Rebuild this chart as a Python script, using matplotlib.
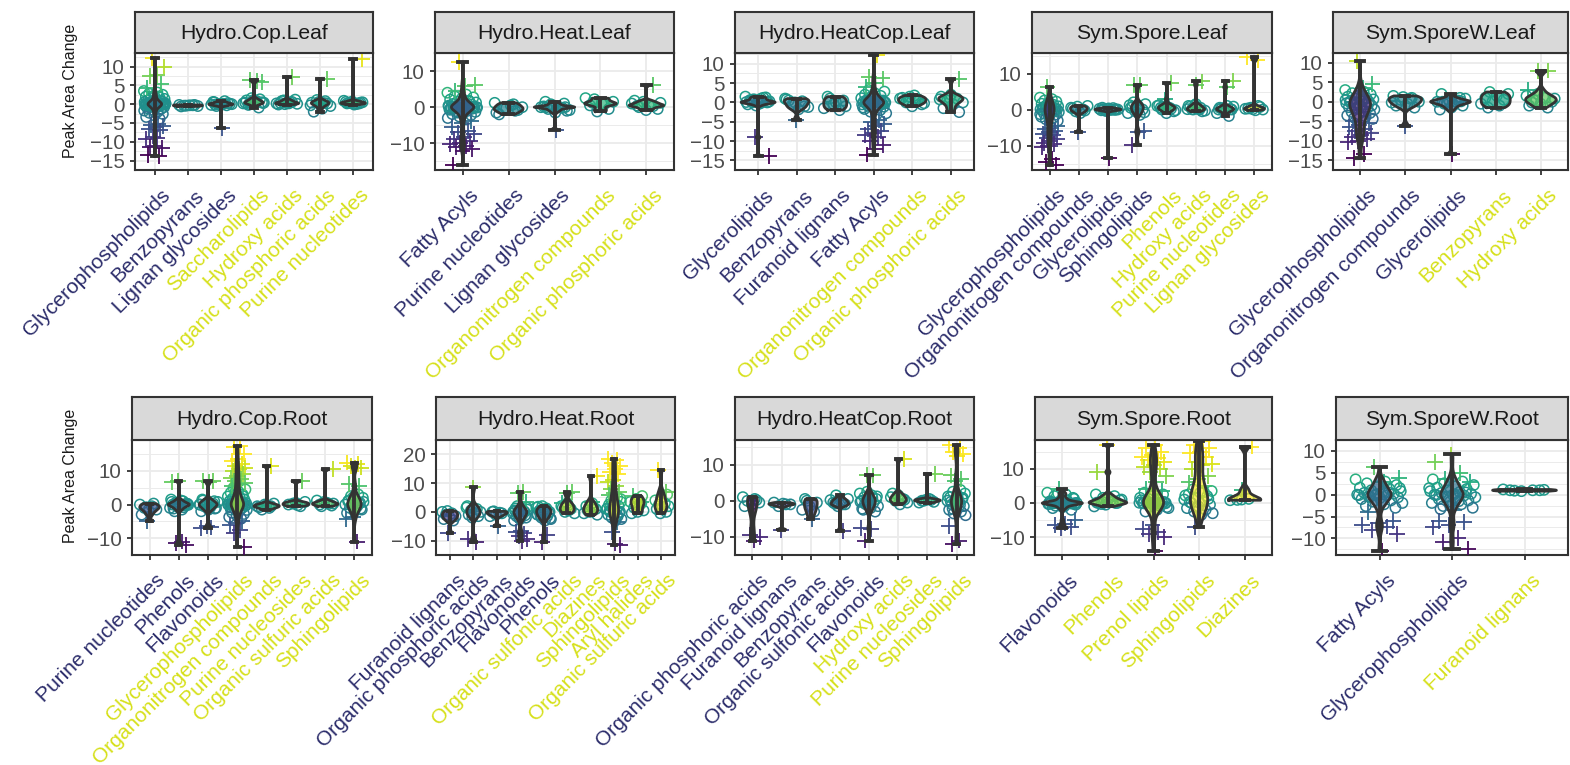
import matplotlib
matplotlib.use("Agg")
import matplotlib.pyplot as plt
import numpy as np
from matplotlib import colors
from matplotlib.transforms import ScaledTranslation

plt.rcParams.update({
    "font.family": ["Liberation Sans", "DejaVu Sans"],
    "axes.unicode_minus": True,
})

# ===============================
# data
# ===============================
# --- Hydro.Cop.Leaf ---
HCL_cats = ["Glycerophospholipids", "Benzopyrans", "Lignan glycosides", "Saccharolipids",
            "Hydroxy acids", "Organic phosphoric acids", "Purine nucleotides"]
HCL_sign = ["neg", "neg", "neg", "pos", "pos", "pos", "pos"]
HCL_pts = [
    [3.5, 3.1, 2.8, 2.5, 2.3, 2.0, 1.8, 1.6, 1.4, 1.2, 1.0, 0.9, 0.8, 0.6, 0.5, 0.4, 0.3, 0.2, 0.1, 0.0,
     0.0, 0.0, 0.0, -0.1, -0.2, -0.3, -0.4, -0.5, -0.6, -0.8, -0.9, -1.1, -1.3, -1.5, -1.7, -2.0, -2.3,
     -2.6, -3.0, -3.4, -3.9, 0.1, -0.1, 0.3, -0.3, 0.7, -0.7, 0.0, 0.05, -0.05, 0.0, 0.1, -0.1,
     0.15, -0.15, 0.2, -0.2, 0.05, -0.05, 0.0],
    [-0.2, -0.3, -0.4, -0.5, -0.3, -0.6, -0.2, -0.4],
    [0.5, 0.3, 0.0, -0.2, 0.8, -0.5, 0.1, -0.1, 0.6, -0.3, 0.0, 0.0, 0.1, -0.1],
    [0.0, 0.3, 0.6, 1.0, 1.3, 1.6, 0.2, 0.8, -0.2, 0.5, 1.1, 0.4, -0.9, 0.3, 0.4],
    [0.0, 0.2, 0.5, 0.8, 1.2, 0.3, -0.1, 0.6, 1.0, 0.1, 0.2, 0.3],
    [0.0, 0.4, 0.8, 1.1, -0.5, -1.2, -2.0, 0.2, 0.6, -0.3, 0.3],
    [0.0, 0.2, 0.4, 0.7, 0.9, 0.1, 0.3, 0.5, -0.1, 0.6, 0.2, 0.3],
]
HCL_out = [
    [12.3, 10.0, 7.8, 7.5, 5.3, 3.3, 4.2, -5.2, -5.5, -5.8, -6.2, -6.6, -7.0, -8.6, -9.3, -9.0,
     -11.4, -11.7, -11.2, -13.5, -13.8],
    [], [-6.3], [6.2, 6.5, 6.0], [7.3], [6.8], [12.0],
]

# --- Hydro.Heat.Leaf ---
HHL_cats = ["Fatty Acyls", "Purine nucleotides", "Lignan glycosides",
            "Organonitrogen compounds", "Organic phosphoric acids"]
HHL_sign = ["neg", "neg", "neg", "pos", "pos"]
HHL_pts = [
    [4.0, 3.5, 3.0, 2.7, 2.4, 2.1, 1.8, 1.5, 1.3, 1.1, 0.9, 0.7, 0.5, 0.4, 0.3, 0.2, 0.1, 0.0, 0.0,
     0.0, 0.0, -0.1, -0.2, -0.3, -0.4, -0.5, -0.7, -0.9, -1.1, -1.3, -1.6, -1.9, -2.2, -2.6, -3.0,
     -3.4, 0.1, -0.1, 0.6, -0.6, 1.6, -1.5, 0.0, 0.05, -0.05, 0.1, -0.1, 0.2, -0.2, 0.0],
    [-1.5, -1.0, -0.5, 0.0, 0.5, -2.0, -0.8, -0.2, 1.2, 0.8],
    [1.5, 1.0, 0.5, 0.0, 0.0, -0.5, -1.0, -1.5, 0.2, -0.2, 0.8, -0.8, 0.1, 0.0, 0.0, -0.1],
    [2.2, 1.5, 1.0, 0.5, -0.5, -1.2, 2.5, 0.8, 1.2],
    [1.5, 1.0, 0.5, 0.0, -0.5, -0.8, 1.8, 0.3, 0.7, 1.2, 0.5, 0.4],
]
HHL_out = [
    [12.5, 6.2, 6.0, 4.5, -3.8, -4.5, -5.5, -6.5, -7.0, -7.5, -8.2, -8.8, -9.5, -10.0, -10.2,
     -10.8, -11.0, -11.5, -12.0, -16.0],
    [], [-6.2], [], [6.2],
]

# --- Hydro.HeatCop.Leaf ---
HHCL_cats = ["Glycerolipids", "Benzopyrans", "Furanoid lignans", "Fatty Acyls",
             "Organonitrogen compounds", "Organic phosphoric acids"]
HHCL_sign = ["neg", "neg", "neg", "neg", "pos", "pos"]
HHCL_pts = [
    [1.5, 1.0, 0.5, 0.0, 0.0, -0.5, 1.2, 0.8, 0.3, -0.3, 0.6, 1.3, -0.8, 0.1, 0.0, 0.0, 0.1, -0.1],
    [0.8, 0.3, -0.5, -1.2, -1.8, 0.5, -1.0, 0.0, 1.0],
    [1.5, 0.5, -0.5, -1.5, -2.0, 1.0, -1.0, 0.0],
    [3.2, 2.8, 2.4, 2.0, 1.7, 1.4, 1.1, 0.9, 0.7, 0.5, 0.3, 0.2, 0.1, 0.0, 0.0, 0.0, -0.1, -0.2,
     -0.3, -0.5, -0.7, -0.9, -1.1, -1.4, -1.7, -2.0, -2.4, -2.8, -3.2, 0.4, -0.4, 1.3, -1.3,
     0.0, 0.05, -0.05, 0.1, -0.1, 0.2, -0.2],
    [1.5, 1.0, 0.5, 0.0, -0.5, -1.0, 1.2, 0.8, 0.3, -0.2, 1.8],
    [2.0, 1.5, 1.0, 0.5, 0.0, -0.5, -1.5, -2.5, 1.2, 0.8],
]
HHCL_out = [
    [-9.0, -13.8], [-4.5], [],
    [12.3, 6.5, 6.2, 5.0, 4.0, -4.5, -5.0, -5.5, -6.0, -7.0, -7.5, -8.0, -8.5, -9.0, -10.0, -11.0,
     -12.0, -13.5],
    [], [6.0],
]

# --- Sym.Spore.Leaf ---
SSL_cats = ["Glycerophospholipids", "Organonitrogen compounds", "Glycerolipids", "Sphingolipids",
            "Phenols", "Hydroxy acids", "Purine nucleotides", "Lignan glycosides"]
SSL_sign = ["neg", "neg", "neg", "neg", "pos", "pos", "pos", "pos"]
SSL_pts = [
    [3.3, 2.9, 2.5, 2.2, 1.9, 1.6, 1.3, 1.1, 0.9, 0.7, 0.5, 0.3, 0.2, 0.1, 0.0, 0.0, 0.0, -0.1, -0.2,
     -0.3, -0.5, -0.7, -0.9, -1.1, -1.4, -1.7, -2.0, -2.3, -2.7, -3.1, -3.5, 0.4, -0.4, 1.4, -1.3, 0.6],
    [0.5, 0.0, -0.5, 1.0, -1.0, 0.3, -0.3, 0.8],
    [0.5, 0.0, -0.3, 0.2, -0.1, 0.1, 0.0, 0.3, -0.2, 0.4, -0.4, 0.0, 0.0, 0.05, -0.05],
    [2.0, 1.5, 1.0, 0.5, 0.0, -0.5, -1.0, -1.5, 0.8, -0.8, 0.3, 1.2],
    [1.5, 1.0, 0.5, 0.0, -0.5, -1.0, 1.2, 0.2, 0.8, -0.2, 0.4, 0.5],
    [1.5, 1.0, 0.5, 0.0, -0.3, 0.3, 0.8, -0.5, 1.2, 0.1, 0.0, 0.1],
    [1.0, 0.5, 0.0, -0.5, -1.0, -1.8, 0.3, 0.8, -0.2, 0.0, 0.1],
    [1.0, 0.5, 0.0, -0.2, 0.3, 0.7, 0.1, 0.2],
]
SSL_out = [
    [6.3, -4.5, -5.0, -5.5, -6.0, -6.3, -6.8, -7.2, -7.8, -8.3, -8.8, -9.2, -9.6, -10.0, -10.3,
     -13.8, -14.5, -15.5],
    [-6.2], [-13.5], [6.9, 6.7, -6.0, -6.3, -9.8], [7.3, 2.8], [7.8, 6.8], [8.0, 6.2], [14.5, 13.8],
]

# --- Sym.SporeW.Leaf ---
SSWL_cats = ["Glycerophospholipids", "Organonitrogen compounds", "Glycerolipids",
             "Benzopyrans", "Hydroxy acids"]
SSWL_sign = ["neg", "neg", "neg", "pos", "pos"]
SSWL_pts = [
    [3.0, 2.6, 2.2, 1.9, 1.6, 1.3, 1.0, 0.8, 0.6, 0.4, 0.2, 0.0, -0.2, -0.4, -0.6, -0.8, -1.0, -1.2,
     -1.4, -1.6, -1.8, -2.0, -2.3, -2.6, -2.9, -3.2, -3.5, -3.8, -4.1, -4.4, 0.1, -0.1, -0.5, -1.5,
     0.5, -2.5],
    [1.5, 1.0, 0.5, 0.0, -0.5, -1.0, -1.5, 1.2, -0.2, 0.8],
    [2.0, 1.0, 0.5, 0.0, 0.0, -0.5, -1.0, -1.5, -2.0, 0.3, -0.3, 0.8, -0.8, 0.0, 0.1, -0.1],
    [2.5, 2.0, 1.5, 1.0, 0.5, 0.0, -0.5, -1.0, -1.5],
    [2.0, 1.5, 1.0, 0.5, 0.0, -0.5, -1.0, -1.5, 0.3, 0.8, 1.2, -0.2],
]
SSWL_out = [
    [10.5, 4.5, 3.5, -5.0, -5.5, -6.0, -6.5, -7.0, -7.5, -8.0, -8.5, -9.0, -9.5, -10.0, -10.3,
     -13.5, -14.5],
    [-6.2], [-13.5], [], [8.0, 7.8, 3.0],
]

# --- Hydro.Cop.Root ---
HCR_cats = ["Purine nucleotides", "Phenols", "Flavonoids", "Glycerophospholipids",
            "Organonitrogen compounds", "Purine nucleosides", "Organic sulfuric acids", "Sphingolipids"]
HCR_sign = ["neg", "neg", "neg", "pos", "pos", "pos", "pos", "pos"]
HCR_pts = [
    [0.0, -0.5, -1.0, -1.5, -2.0, -3.0, 0.3, -0.8],
    [1.5, 1.0, 0.5, 0.2, 0.0, 0.0, -0.3, -0.6, -1.0, -1.5, -2.0, 0.3, -0.2, 0.8, -0.8, 0.1, -0.1,
     1.2, -1.2, 0.0, 0.0],
    [1.5, 1.0, 0.5, 0.0, 0.0, -0.5, -1.0, -1.5, -2.0, 0.3, -0.3, 0.8, -0.8, 1.2, -1.2, 0.1, 0.0],
    [5.0, 4.5, 4.0, 3.5, 3.0, 2.7, 2.4, 2.1, 1.8, 1.5, 1.2, 1.0, 0.8, 0.6, 0.4, 0.2, 0.1, 0.0, 0.0,
     0.0, -0.1, -0.2, -0.4, -0.6, -0.8, -1.0, -1.3, -1.6, -2.0, -2.4, -2.8, -3.2, -3.7, -4.2, 0.3,
     -0.3, 1.5, -1.5, 2.5, 3.8, 0.0, 0.05, -0.05, 0.1, -0.1, 0.15, -0.15, 0.0],
    [0.0, -0.5, -1.0, -1.5, 0.3, -0.2, -0.8, -0.5],
    [0.5, 0.0, -0.5, 0.3, 0.8, -0.2],
    [0.5, 0.0, -0.3, 0.8, 1.2, 0.2, -0.5, 0.3],
    [3.0, 2.5, 2.0, 1.5, 1.0, 0.5, 0.0, 0.0, -0.5, -1.0, -1.5, -2.0, -2.5, 0.3, -0.3, 0.8, -0.8,
     1.2, -1.2, 2.2],
]
HCR_out = [
    [-5.0],
    [7.0, 6.8, -11.0, -11.5, -12.0],
    [6.8, 6.9, 7.0, -6.5, -7.0, -6.8],
    [17.5, 17.0, 15.0, 13.5, 13.0, 12.0, 11.5, 11.0, 10.5, 10.0, 9.0, 8.5, 8.0, 7.5, 7.0, 6.5, 6.0,
     5.5, -5.0, -5.5, -6.0, -7.5, -8.5, -12.5],
    [11.5], [7.0], [10.5],
    [12.5, 12.0, 11.5, 11.0, 10.8, 6.0, 5.5, -3.8, -4.2, -11.0],
]

# --- Hydro.Heat.Root ---
HHR_cats = ["Furanoid lignans", "Organic phosphoric acids", "Benzopyrans", "Flavonoids", "Phenols",
            "Organic sulfonic acids", "Diazines", "Sphingolipids", "Aryl halides", "Organic sulfuric acids"]
HHR_sign = ["neg", "neg", "neg", "neg", "neg", "pos", "pos", "pos", "pos", "pos"]
HHR_pts = [
    [0.0, -0.5, -1.0, -1.5, -2.0, -2.5, -3.0, 0.3],
    [2.0, 1.0, 0.5, 0.0, -0.5, -1.0, -1.5, -2.0, 1.5],
    [0.0, -0.5, -1.0, -1.5, -0.3, 0.2],
    [2.0, 1.5, 1.0, 0.5, 0.0, 0.0, -0.5, -1.0, -1.5, -2.0, -2.5, -3.0, 0.3, -0.3, 0.8, -0.8, 1.2,
     -1.2, -2.2, 0.1],
    [2.0, 1.5, 1.0, 0.5, 0.0, -0.5, -1.0, -1.5, -2.0, -2.5, -3.0, 0.3, -0.3, 0.8, -0.8, 1.2, -1.2,
     -2.2, 0.1, 1.8],
    [3.0, 2.0, 1.0, 0.0, -0.5, 0.5, 1.5],
    [3.0, 2.0, 1.0, 0.0, -0.5, 1.5, 0.5, -1.0],
    [5.0, 4.0, 3.5, 3.0, 2.5, 2.0, 1.5, 1.0, 0.5, 0.0, 0.0, -0.5, -1.0, -1.5, -2.0, -2.5, -3.0, 0.3,
     -0.3, 0.8, 1.2, -1.2, 2.2, 4.5],
    [5.5, 4.5, 3.5, 2.5, 1.5, 0.5, 0.0, -0.5, 3.0],
    [6.0, 5.0, 4.0, 3.0, 2.5, 2.0, 1.5, 1.0, 0.0, -0.5],
]
HHR_out = [
    [-7.5], [8.5, -9.5, -10.5], [-5.0],
    [7.0, 6.5, 3.5, -6.5, -7.0, -7.5, -8.5, -9.5, -10.0],
    [-8.0, -10.5], [6.8, 6.5, 3.0], [12.5, 3.5],
    [18.5, 18.0, 17.0, 16.0, 15.0, 14.0, 13.0, 11.0, 10.5, 9.0, 8.0, 7.0, 6.5, 6.0, -3.5, -7.0,
     -11.5, -11.0],
    [5.5, 3.5], [14.5, 7.0],
]

# --- Hydro.HeatCop.Root ---
HHCR_cats = ["Organic phosphoric acids", "Furanoid lignans", "Benzopyrans", "Organic sulfonic acids",
             "Flavonoids", "Hydroxy acids", "Purine nucleosides", "Sphingolipids"]
HHCR_sign = ["neg", "neg", "neg", "neg", "neg", "pos", "pos", "pos"]
HHCR_pts = [
    [1.0, 0.5, 0.0, -0.5, -1.0, -1.5, 0.2],
    [-0.5, -1.0, -1.5, -1.0, -0.8],
    [0.5, -0.5, -1.5, -2.5, -3.0, 0.0],
    [1.5, 0.5, 0.0, -0.5, -1.0, -1.5, 0.2, -1.0, -0.8],
    [2.5, 2.0, 1.5, 1.0, 0.5, 0.0, 0.0, -0.5, -1.0, -1.5, -2.0, -2.5, -3.0, 0.3, -0.3, 0.8, -0.8,
     1.2, -1.2, -2.2],
    [1.5, 1.0, 0.5, 0.0, -0.5, -1.0, 2.0, 0.3],
    [0.5, 0.0, -0.3, 0.3, -0.5, 0.2, 0.0],
    [3.0, 2.5, 2.0, 1.5, 1.0, 0.5, 0.0, 0.0, -0.5, -1.0, -1.5, -2.0, -2.5, -3.0, -3.5, -4.0, 0.3,
     -0.3, 0.8, -0.8, 1.2, -1.2, -2.2],
]
HHCR_out = [
    [-9.5, -10.0, -11.0], [-8.0], [-5.0], [-8.3],
    [7.0, 7.2, -7.5, -7.8, -11.0], [11.5], [7.5],
    [15.5, 14.5, 13.5, 13.0, 12.5, 7.0, 6.0, 5.5, -7.0, -11.0, -12.0],
]

# --- Sym.Spore.Root ---
SSR_cats = ["Flavonoids", "Phenols", "Prenol lipids", "Sphingolipids", "Diazines"]
SSR_sign = ["neg", "pos", "pos", "pos", "pos"]
SSR_pts = [
    [3.0, 2.5, 2.0, 1.5, 1.0, 0.5, 0.0, 0.0, -0.5, -1.0, -1.5, -2.0, 0.3, -0.3, 0.8, -0.8, 1.2,
     -1.2, 0.1, -0.1, 2.8, 0.0, 0.0, -0.1, -0.2, 0.1, -0.3, 0.0, 0.05, -0.05, -0.15],
    [2.5, 2.0, 1.5, 1.0, 0.5, 0.0, 0.0, -0.5, -1.0, 0.3, -0.3, 0.8, 1.2, 0.1, 0.0, 0.1],
    [3.0, 2.5, 2.0, 1.5, 1.0, 0.5, 0.0, 0.0, 0.0, -0.5, -1.0, -1.5, -2.0, -2.5, 0.3, -0.3, 0.8,
     -0.8, 1.2, -1.2, 0.1, -0.1, 0.0, 0.0, 0.05, -0.05, 0.1, -0.1, 0.0],
    [4.0, 3.5, 3.0, 2.5, 2.0, 1.5, 1.0, 0.5, 0.0, -0.5, -1.0, -1.5, -2.0, -2.5, -3.0, -3.5, 0.3,
     1.2, -1.2, 2.2, 3.2],
    [1.0, 0.8, 1.2, 0.9],
]
SSR_out = [
    [4.0, -5.0, -6.0, -6.5, -7.0, -7.3],
    [17.0, 9.0],
    [17.0, 16.0, 15.0, 14.0, 13.5, 13.0, 12.5, 12.0, 11.0, 10.5, 10.0, 9.0, 8.0, 6.0, 4.0, 3.5,
     -6.5, -7.5, -8.5, -9.0, -10.0, -14.0],
    [18.0, 17.0, 16.0, 15.0, 14.5, 13.5, 12.0, 11.5, 11.0, 10.0, 8.0, 7.0, 6.0, 5.0, -7.0],
    [16.5, 3.7],
]

# --- Sym.SporeW.Root ---
SSWR_cats = ["Fatty Acyls", "Glycerophospholipids", "Furanoid lignans"]
SSWR_sign = ["neg", "neg", "pos"]
SSWR_pts = [
    [3.5, 3.0, 2.6, 2.2, 1.9, 1.6, 1.3, 1.0, 0.8, 0.6, 0.4, 0.2, 0.0, 0.0, -0.2, -0.4, -0.6, -0.8,
     -1.0, -1.3, -1.6, -1.9, -2.2, -2.6, -3.0, 0.1, -0.1, 0.5, -0.5, 1.5, -1.5],
    [3.5, 3.0, 2.6, 2.2, 1.9, 1.6, 1.3, 1.0, 0.8, 0.6, 0.4, 0.2, 0.0, 0.0, -0.2, -0.4, -0.6, -0.8,
     -1.0, -1.3, -1.6, -1.9, -2.2, -2.6, -3.0, 0.1, -0.1, 0.5, -0.5, 1.5, -1.5, -3.3],
    [1.0, 1.0, 0.8, 1.2, 1.0, 0.9, 1.1],
]
SSWR_out = [
    [6.3, 3.8, 3.0, -4.0, -6.0, -6.5, -7.0, -7.3, -8.0, -9.0, -12.8],
    [9.2, 7.5, 5.0, 3.5, 3.0, -3.5, -6.0, -6.3, -7.0, -7.5, -10.0, -10.8, -12.5],
    [],
]

# ===============================
# layout (pixels)
# ===============================
W, H = 1570, 765
TOP = (12, 53, 170)      # strip top, panel top, panel bottom
BOT = (397, 440, 555)

panels = [
    ("Hydro.Cop.Leaf", HCL_cats, HCL_sign, HCL_pts, HCL_out, (135, 373), TOP, (-15.2, 13.6), [-15, -10, -5, 0, 5, 10]),
    ("Hydro.Heat.Leaf", HHL_cats, HHL_sign, HHL_pts, HHL_out, (435, 674), TOP, (-17.4, 13.7), [-10, 0, 10]),
    ("Hydro.HeatCop.Leaf", HHCL_cats, HHCL_sign, HHCL_pts, HHCL_out, (735, 974), TOP, (-15.3, 12.8), [-15, -10, -5, 0, 5, 10]),
    ("Sym.Spore.Leaf", SSL_cats, SSL_sign, SSL_pts, SSL_out, (1032, 1272), TOP, (-16.8, 15.7), [-10, 0, 10]),
    ("Sym.SporeW.Leaf", SSWL_cats, SSWL_sign, SSWL_pts, SSWL_out, (1333, 1568), TOP, (-15.6, 11.3), [-15, -10, -5, 0, 5, 10]),
    ("Hydro.Cop.Root", HCR_cats, HCR_sign, HCR_pts, HCR_out, (132, 372), BOT, (-14.0, 19.2), [-10, 0, 10]),
    ("Hydro.Heat.Root", HHR_cats, HHR_sign, HHR_pts, HHR_out, (436, 675), BOT, (-12.9, 20.0), [-10, 0, 10, 20]),
    ("Hydro.HeatCop.Root", HHCR_cats, HHCR_sign, HHCR_pts, HHCR_out, (735, 974), BOT, (-12.9, 16.8), [-10, 0, 10]),
    ("Sym.Spore.Root", SSR_cats, SSR_sign, SSR_pts, SSR_out, (1035, 1272), BOT, (-15.2, 18.4), [-10, 0, 10]),
    ("Sym.SporeW.Root", SSWR_cats, SSWR_sign, SSWR_pts, SSWR_out, (1336, 1568), BOT, (-13.8, 10.2), [-10, -5, 0, 5, 10]),
]

LABEL_COL = {"neg": "#2C2D6B", "pos": "#D6E01A"}
DARK = "#333333"
GRID = "#EBEBEB"
FS_X = 15.0
FS_Y = 14.8
FS_STRIP = 15.2

vir = plt.get_cmap("viridis")
pnorm = colors.Normalize(-13, 13, clip=True)
fnorm = colors.Normalize(-3, 3, clip=True)

fig = plt.figure(figsize=(W / 100, H / 100), dpi=100)
xshift = ScaledTranslation(6 / 100, 0, fig.dpi_scale_trans)


def px_axes(x0, x1, y0, y1):
    return fig.add_axes([x0 / W, 1 - y1 / H, (x1 - x0) / W, (y1 - y0) / H])


def jit(n, w, off=0.0):
    i = np.arange(n)
    return ((i * 0.618034 + off) % 1 - 0.5) * 2 * w


def kde(vals, grid):
    v = np.asarray(vals, float)
    n = len(v)
    sd = v.std(ddof=1)
    iqr = np.subtract(*np.percentile(v, [75, 25]))
    lo = min(sd, iqr / 1.34) if iqr > 0 else sd
    bw = max(0.9 * lo * n ** -0.2, 0.25)
    z = (grid[:, None] - v[None, :]) / bw
    return np.exp(-0.5 * z ** 2).sum(1) / (n * bw * np.sqrt(2 * np.pi))


for title, cats, sign, pts, out, (x0, x1), (s0, p0, p1), ylim, yticks in panels:
    ax = px_axes(x0, x1, p0, p1)
    n = len(cats)
    xs = np.arange(1, n + 1)

    # violin densities, softened area scaling within the panel
    dens = []
    for k in range(n):
        allv = pts[k] + out[k]
        g = np.linspace(min(allv), max(allv), 300)
        dens.append((g, kde(allv, g)))
    dmax = max(d.max() for _, d in dens)

    for k in range(n):
        x = xs[k]
        p = np.array(pts[k])
        o = np.array(out[k])
        ax.scatter(x + jit(len(p), 0.33, 0.1 * k), p, s=55, facecolors="none",
                   edgecolors=vir(pnorm(p)), linewidths=1.1, zorder=2)
        if len(o):
            ax.scatter(x + jit(len(o), 0.28, 0.37 + 0.1 * k), o, marker="+", s=130,
                       c=vir(pnorm(o)), linewidths=1.3, zorder=3)
        g, d = dens[k]
        gmax = d.max()
        hw = d / gmax * 0.44 * (gmax / dmax) ** 0.45
        allv = pts[k] + out[k]
        fc = vir(fnorm(np.mean(allv)))
        ax.fill_betweenx(g, x - hw, x + hw, facecolor=fc, alpha=0.7, lw=0, zorder=4)
        ax.plot(np.r_[x - hw, (x + hw)[::-1], x - hw[0]], np.r_[g, g[::-1], g[0]],
                color=DARK, lw=2, zorder=5)
        lo, hi = min(allv), max(allv)
        ax.plot([x, x], [lo, hi], color=DARK, lw=2.8, zorder=6, solid_capstyle="butt")
        ax.plot([x - 0.09, x + 0.09], [lo, lo], color=DARK, lw=2.8, zorder=6)
        ax.plot([x - 0.09, x + 0.09], [hi, hi], color=DARK, lw=2.8, zorder=6)

    step = yticks[1] - yticks[0]
    ax.set_xlim(0.4, n + 0.6)
    ax.set_ylim(*ylim)
    ax.set_yticks(yticks)
    ax.set_yticks(np.r_[np.array(yticks) - step / 2, yticks[-1] + step / 2], minor=True)
    ax.set_xticks(xs)
    ax.set_xticklabels(cats, rotation=45, ha="right", rotation_mode="anchor", fontsize=FS_X)
    ax.tick_params(axis="both", which="major", length=3.5, width=1.3, color=DARK)
    ax.tick_params(axis="x", pad=8)
    ax.tick_params(axis="y", labelcolor="#4D4D4D", labelsize=FS_Y, pad=4)
    for lab, s in zip(ax.get_xticklabels(), sign):
        lab.set_color(LABEL_COL[s])
        lab.set_transform(lab.get_transform() + xshift)
    ax.tick_params(which="minor", length=0)
    ax.grid(which="major", color=GRID, lw=1.3)
    ax.grid(which="minor", axis="y", color=GRID, lw=0.7)
    ax.set_axisbelow(True)
    for sp in ax.spines.values():
        sp.set_color(DARK)
        sp.set_linewidth(1.5)

    # strip
    st = px_axes(x0, x1, s0, p0)
    st.set_facecolor("#D9D9D9")
    st.set_xticks([])
    st.set_yticks([])
    for sp in st.spines.values():
        sp.set_color(DARK)
        sp.set_linewidth(1.5)
    st.text(0.5, 0.48, title, ha="center", va="center", fontsize=FS_STRIP, color="#1A1A1A",
            transform=st.transAxes)

    if x0 < 200:
        fig.text(71 / W, 1 - (s0 + p1) / 2 / H, "Peak Area Change", rotation=90,
                 ha="center", va="center", fontsize=11.5, color="#1A1A1A")

fig.savefig("out.png", dpi=100)
